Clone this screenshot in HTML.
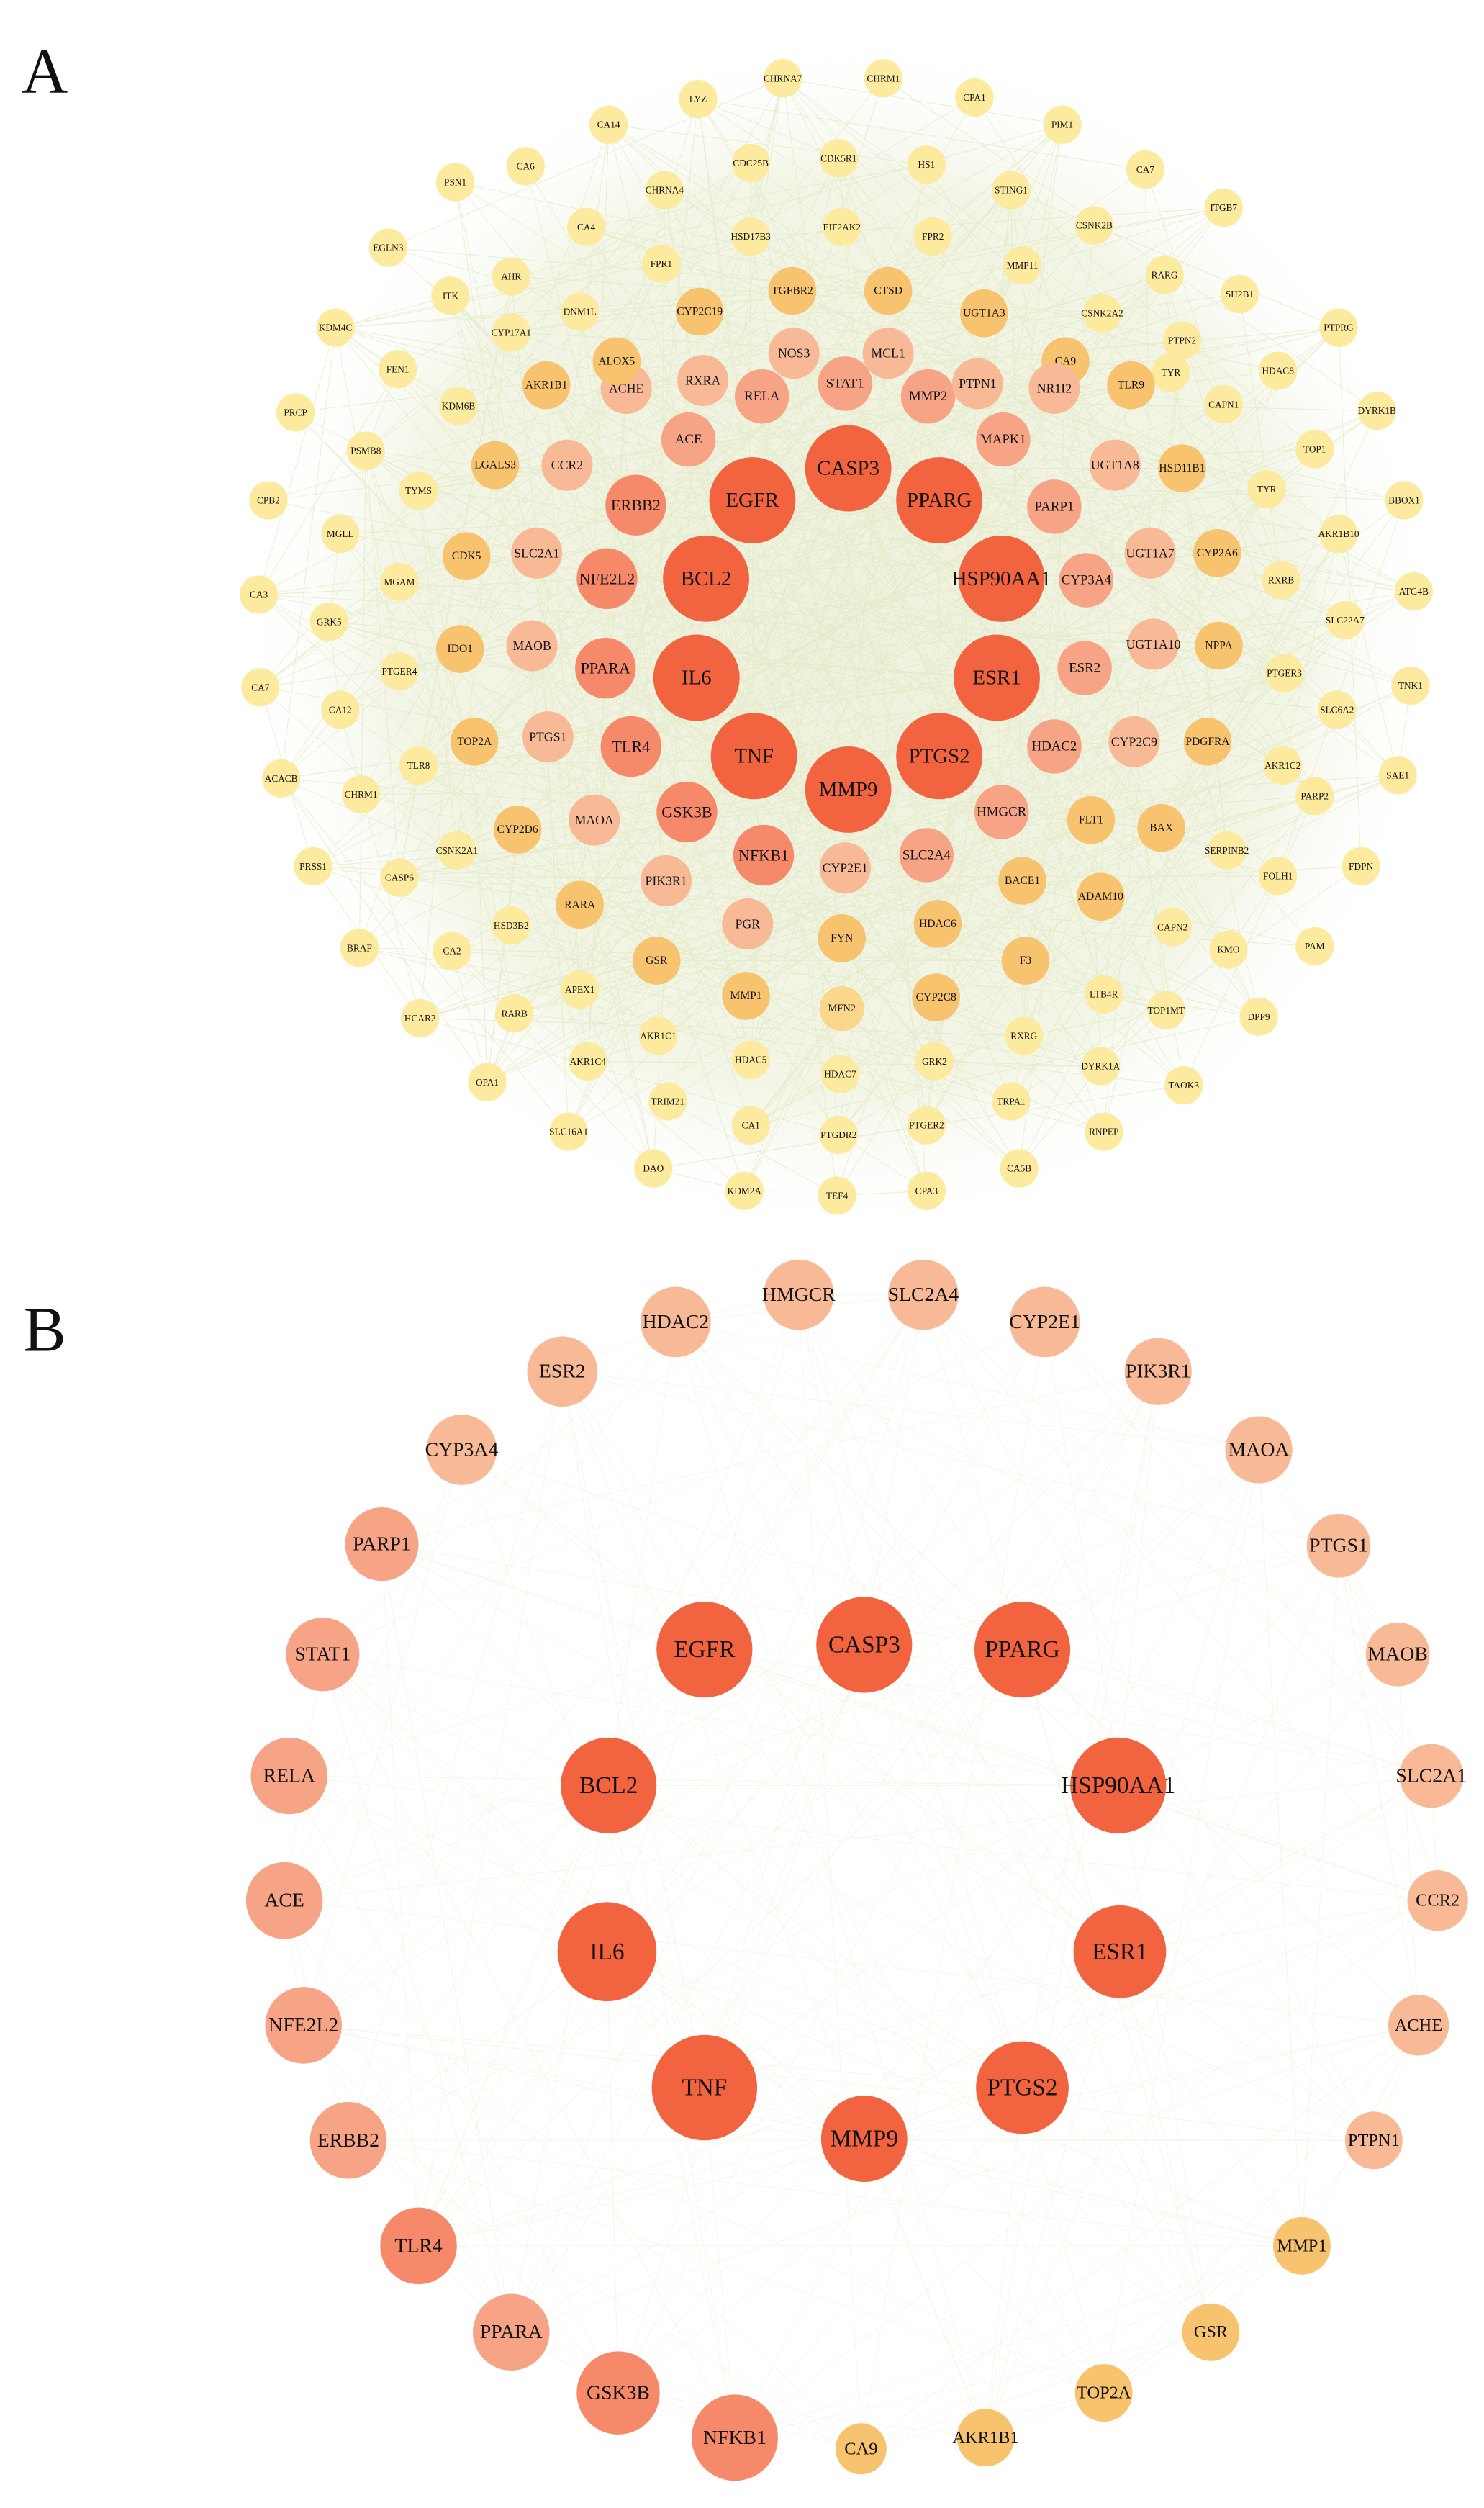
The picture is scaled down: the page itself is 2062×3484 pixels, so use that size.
<!DOCTYPE html>
<html><head><meta charset="utf-8"><style>
html,body{margin:0;padding:0;background:#fff;}
svg{display:block;}
text{font-family:"Liberation Serif",serif;fill:#111;text-anchor:middle;dominant-baseline:central;}
</style></head><body>
<svg id="s" xmlns="http://www.w3.org/2000/svg" width="2062" height="3484" viewBox="0 0 929 1569" preserveAspectRatio="none">
<defs>
<radialGradient id="g" cx="0.5" cy="0.5" r="0.5">
<stop offset="0" stop-color="#eef1dc"/><stop offset="0.75" stop-color="#f3f5e6"/><stop offset="1" stop-color="#ffffff" stop-opacity="0"/>
</radialGradient>
</defs>
<rect width="929" height="1569" fill="#fff"/>
<circle cx="527" cy="398" r="380" fill="url(#g)"/>
<g id="edgesA" stroke="#dfe8c0" stroke-width="0.5" opacity="0.6"></g>
<g id="edgesB" stroke="#e8efd2" stroke-width="0.45" opacity="0.45"></g>
<g id="nodes"></g>
<text x="28" y="45" style="font-size:40px">A</text>
<text x="28" y="832" style="font-size:40px">B</text>
</svg>
<script>
var C={B:"#f2643f",M1:"#f5896a",M2:"#f7a486",L:"#f8b996",O:"#f8c36f",Y1:"#fad78a",Y:"#fcea9f"};
var R={B:27,M1:19,M2:17,L:16,O:15,Y1:14,Y:12};
var F={B:13,M1:10,M2:8.5,L:8,O:7,Y1:6.5,Y:6};
var A=[
["CASP3",531,293,"B"],["EGFR",471,313,"B"],["PPARG",588,313,"B"],["BCL2",442,362,"B"],["HSP90AA1",627,362,"B"],["IL6",436,424,"B"],["ESR1",624,424,"B"],["TNF",472,473,"B"],["PTGS2",588,473,"B"],["MMP9",531,494,"B"],
["RELA",477,248,"M2"],["STAT1",529,240,"M2"],["MMP2",581,248,"M2"],["ACE",431,275,"M2"],["MAPK1",628,275,"M2"],["ERBB2",398,316,"M1"],["PARP1",660,317,"M2"],["NFE2L2",380,362,"M1"],["CYP3A4",680,363,"M2"],["PPARA",379,418,"M1"],["ESR2",679,418,"M2"],["TLR4",395,467,"M1"],["HDAC2",660,467,"M2"],["GSK3B",430,508,"M1"],["HMGCR",627,508,"M2"],["NFKB1",478,535,"M1"],["SLC2A4",580,535,"M2"],["CYP2E1",529,543,"L"],["PIK3R1",417,551,"L"],["PGR",468,578,"L"],["MAOA",372,513,"L"],["PTGS1",343,461,"L"],["MAOB",333,404,"L"],["SLC2A1",336,346,"L"],["CCR2",355,291,"L"],["ACHE",392,243,"L"],["AKR1B1",342,241,"O"],
["CHRNA7",490,49,"Y"],["CHRM1",553,49,"Y"],["LYZ",437,62,"Y"],["CPA1",610,61,"Y"],["CA14",381,78,"Y"],["PIM1",665,78,"Y"],["CDC25B",470,102,"Y"],["CDK5R1",525,99,"Y"],["HS1",580,103,"Y"],["CA6",329,104,"Y"],["CA7",717,106,"Y"],["CHRNA4",416,119,"Y"],["STING1",633,119,"Y"],["EIF2AK2",527,142,"Y"],["HSD17B3",470,148,"Y"],["FPR2",584,148,"Y"],["CA4",367,142,"Y"],["CSNK2B",685,141,"Y"],["PSN1",285,114,"Y"],["ITGB7",766,130,"Y"],["FPR1",414,165,"Y"],["MMP11",640,166,"Y"],["RARG",729,172,"Y"],["AHR",320,173,"Y"],["DNM1L",363,195,"Y"],["TGFBR2",496,182,"O"],["CTSD",556,182,"O"],["CYP2C19",438,195,"O"],["UGT1A3",616,196,"O"],["CSNK2A2",690,196,"Y"],["SH2B1",776,184,"Y"],["EGLN3",243,155,"Y"],["NOS3",497,221,"L"],["MCL1",556,221,"L"],["CA9",667,226,"O"],["KDM4C",210,205,"Y"],["ITK",282,185,"Y"],["CYP17A1",320,208,"Y"],["ALOX5",386,226,"O"],["RXRA",440,238,"L"],["PTPN1",612,240,"L"],["PTPN2",740,213,"Y"],["PTPRG",838,205,"Y"],["TYR",733,233,"Y"],["FEN1",249,231,"Y"],["NR1I2",660,243,"L"],["TLR9",708,241,"O"],["HDAC8",800,232,"Y"],["PRCP",185,258,"Y"],["KDM6B",287,254,"Y"],["CAPN1",766,253,"Y"],["DYRK1B",862,257,"Y"],["PSMB8",229,282,"Y"],["LGALS3",310,291,"O"],["UGT1A8",698,291,"L"],["HSD11B1",740,293,"O"],["TOP1",823,281,"Y"],["CPB2",168,313,"Y"],["TYMS",262,307,"Y"],["TYR",793,306,"Y"],["BBOX1",879,313,"Y"],["CDK5",292,348,"O"],["UGT1A7",720,346,"L"],["CYP2A6",762,346,"O"],["AKR1B10",838,334,"Y"],["MGLL",213,334,"Y"],["MGAM",250,364,"Y"],["RXRB",802,363,"Y"],["ATG4B",885,370,"Y"],["CA3",162,372,"Y"],["IDO1",288,406,"O"],["UGT1A10",722,403,"L"],["NPPA",763,404,"O"],["SLC22A7",842,388,"Y"],["GRK5",206,389,"Y"],["PTGER4",250,420,"Y"],["PTGER3",804,421,"Y"],["TNK1",883,429,"Y"],["CA7",163,430,"Y"],["CA12",213,444,"Y"],["SLC6A2",837,444,"Y"],["TOP2A",297,464,"O"],["CYP2C9",710,464,"L"],["PDGFRA",756,464,"O"],["AKR1C2",803,479,"Y"],["TLR8",262,479,"Y"],["ACACB",176,487,"Y"],["CHRM1",226,497,"Y"],["SAE1",875,485,"Y"],["PARP2",823,498,"Y"],["CYP2D6",324,519,"O"],["FLT1",683,513,"O"],["BAX",727,518,"O"],["CSNK2A1",286,532,"Y"],["SERPINB2",768,532,"Y"],["PRSS1",196,542,"Y"],["FDPN",852,542,"Y"],["CASP6",250,549,"Y"],["FOLH1",800,548,"Y"],["BACE1",640,551,"O"],["RARA",363,566,"O"],["ADAM10",689,561,"O"],["HSD3B2",320,579,"Y"],["CAPN2",734,580,"Y"],["FYN",527,587,"O"],["HDAC6",587,578,"O"],["BRAF",225,593,"Y"],["CA2",283,595,"Y"],["GSR",411,601,"O"],["F3",642,601,"O"],["KMO",769,594,"Y"],["PAM",823,592,"Y"],["APEX1",363,619,"Y"],["MMP1",467,623,"O"],["MFN2",527,631,"Y1"],["CYP2C8",586,624,"O"],["LTB4R",691,622,"Y"],["HCAR2",263,637,"Y"],["RARB",322,634,"Y"],["AKR1C1",412,648,"Y"],["HDAC5",470,663,"Y"],["RXRG",641,648,"Y"],["TOP1MT",730,632,"Y"],["DPP9",788,636,"Y"],["HDAC7",526,672,"Y"],["GRK2",585,664,"Y"],["DYRK1A",689,667,"Y"],["AKR1C4",368,664,"Y"],["OPA1",305,677,"Y"],["TRIM21",418,689,"Y"],["TRPA1",633,689,"Y"],["TAOK3",741,679,"Y"],["CA1",470,704,"Y"],["PTGDR2",525,710,"Y"],["PTGER2",580,704,"Y"],["RNPEP",691,708,"Y"],["SLC16A1",356,708,"Y"],["DAO",409,731,"Y"],["CA5B",638,731,"Y"],["KDM2A",466,745,"Y"],["CPA3",580,745,"Y"],["TEF4",524,748,"Y"]
];
var B=[
["CASP3",541,1029,30,"B"],["EGFR",441,1032,30,"B"],["PPARG",640,1032,30,"B"],["BCL2",381,1117,30,"B"],["HSP90AA1",700,1117,30,"B"],["IL6",380,1221,31,"B"],["ESR1",701,1221,29,"B"],["TNF",441,1306,33,"B"],["PTGS2",640,1306,29,"B"],["MMP9",541,1338,27,"B"],
["HMGCR",500,810,22,"L"],["SLC2A4",578,810,22,"L"],["HDAC2",423,827,22,"L"],["CYP2E1",654,827,22,"L"],["ESR2",352,858,22,"L"],["PIK3R1",725,858,21,"L"],["CYP3A4",289,907,22,"L"],["MAOA",788,907,21,"L"],["PARP1",239,966,23,"M2"],["PTGS1",838,967,20,"L"],["STAT1",202,1035,23,"M2"],["MAOB",875,1035,20,"L"],["RELA",181,1111,24,"M2"],["SLC2A1",896,1111,20,"L"],["ACE",178,1189,24,"M2"],["CCR2",900,1189,19,"L"],["NFE2L2",190,1267,24,"M2"],["ACHE",888,1267,19,"L"],["ERBB2",218,1339,24,"M2"],["PTPN1",860,1339,18,"L"],["TLR4",262,1405,24,"M1"],["MMP1",815,1405,18,"O"],["PPARA",320,1459,24,"M2"],["GSR",758,1459,18,"O"],["GSK3B",387,1497,26,"M1"],["TOP2A",691,1497,18,"O"],["NFKB1",460,1525,27,"M1"],["AKR1B1",617,1525,18,"O"],["CA9",539,1532,16,"O"]
];
var ns="http://www.w3.org/2000/svg",EA=document.getElementById("edgesA"),EB=document.getElementById("edgesB"),N=document.getElementById("nodes");
function el(t,a){var e=document.createElementNS(ns,t);for(var k in a)e.setAttribute(k,a[k]);return e;}
var seed=7;function rnd(){seed=(seed*16807)%2147483647;return seed/2147483647;}
function edges(list,n,E){for(var i=0;i<n;i++){var a=list[Math.floor(rnd()*list.length)],b=list[Math.floor(rnd()*list.length)];E.appendChild(el("line",{x1:a[1],y1:a[2],x2:b[1],y2:b[2]}));}}
edges(A,700,EA);edges(B,260,EB);
A.forEach(function(d){var c=d[3];N.appendChild(el("circle",{cx:d[1],cy:d[2],r:R[c],fill:C[c]}));var t=el("text",{x:d[1],y:d[2]});t.style.fontSize=F[c]+"px";t.textContent=d[0];N.appendChild(t);});
B.forEach(function(d){N.appendChild(el("circle",{cx:d[1],cy:d[2],r:d[3],fill:C[d[4]]}));var fs=d[4]=="B"?15:(d[3]<=19?11:12.5);var t=el("text",{x:d[1],y:d[2]});t.style.fontSize=fs+"px";t.textContent=d[0];N.appendChild(t);});
</script>
</body></html>
